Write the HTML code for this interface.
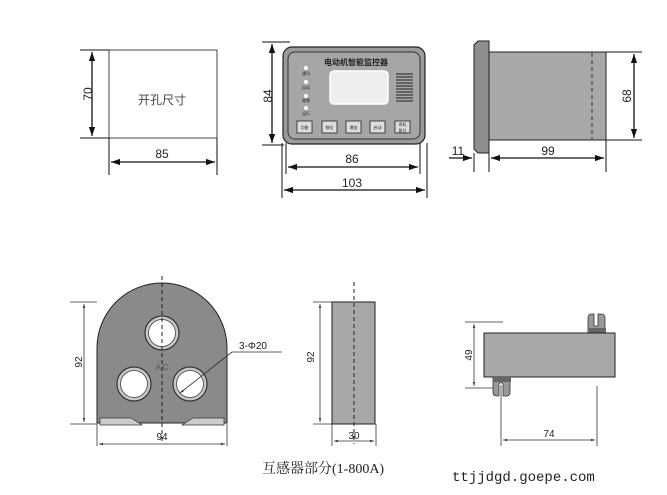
<!DOCTYPE html>
<html><head><meta charset="utf-8"><style>
html,body{margin:0;padding:0;background:#fff;width:667px;height:495px;overflow:hidden}
svg{display:block}
text{font-family:"Liberation Sans","Noto Sans CJK SC",sans-serif;fill:#222}
</style></head><body>
<svg width="667" height="495" viewBox="0 0 667 495" xmlns="http://www.w3.org/2000/svg">
<defs>
<marker id="a" viewBox="0 0 10 10" refX="10" refY="5" markerWidth="7" markerHeight="7" orient="auto-start-reverse"><path d="M0,1.5 L10,5 L0,8.5 z" fill="#111"/></marker>
<marker id="s" viewBox="0 0 10 10" refX="10" refY="5" markerWidth="5" markerHeight="5" orient="auto-start-reverse"><path d="M0,2 L10,5 L0,8 z" fill="#333"/></marker>
</defs>
<g stroke="#111" fill="none" stroke-width="1">
<rect x="109" y="50" width="108" height="88" stroke="#444"/>
<line x1="80" y1="50" x2="109" y2="50"/><line x1="80" y1="138" x2="109" y2="138"/>
<line x1="92" y1="52" x2="92" y2="136" stroke-width="1.3" marker-start="url(#a)" marker-end="url(#a)"/>
<line x1="109" y1="138" x2="109" y2="175"/><line x1="217" y1="138" x2="217" y2="175"/>
<line x1="111" y1="162" x2="215" y2="162" stroke-width="1.3" marker-start="url(#a)" marker-end="url(#a)"/>
<line x1="262" y1="42" x2="290" y2="42"/><line x1="262" y1="145" x2="284" y2="145"/>
<line x1="272" y1="44" x2="272" y2="143" stroke-width="1.3" marker-start="url(#a)" marker-end="url(#a)"/>
<line x1="286" y1="143" x2="286" y2="174"/><line x1="420" y1="143" x2="420" y2="174"/>
<line x1="288" y1="167" x2="418" y2="167" stroke-width="1.3" marker-start="url(#a)" marker-end="url(#a)"/>
<line x1="282" y1="143" x2="282" y2="198"/><line x1="427" y1="143" x2="427" y2="198"/>
<line x1="284" y1="190" x2="425" y2="190" stroke-width="1.3" marker-start="url(#a)" marker-end="url(#a)"/>
<line x1="606" y1="52" x2="642" y2="52"/><line x1="606" y1="140" x2="642" y2="140"/>
<line x1="634" y1="54" x2="634" y2="138" stroke-width="1.3" marker-start="url(#a)" marker-end="url(#a)"/>
<line x1="474" y1="153" x2="474" y2="172"/><line x1="489" y1="153" x2="489" y2="172"/><line x1="606" y1="140" x2="606" y2="172"/>
<line x1="449" y1="158" x2="472" y2="158" stroke-width="1.3" marker-end="url(#a)"/>
<line x1="491" y1="158" x2="604" y2="158" stroke-width="1.3" marker-start="url(#a)" marker-end="url(#a)"/>
</g>
<rect x="283" y="47" width="142" height="97" rx="9" fill="#9a9a9a" stroke="#222" stroke-width="1.2"/>
<rect x="288" y="52" width="132" height="87" rx="7" fill="#a6a6a6" stroke="#333" stroke-width="1"/>
<text x="356" y="65" font-size="8" text-anchor="middle" font-weight="bold" style="fill:#222">电动机智能监控器</text>
<rect x="330" y="71" width="58" height="33" rx="4" fill="#eee" stroke="#fff" stroke-width="1.5"/>
<g stroke="#222" stroke-width="1">
<line x1="396" y1="74" x2="413" y2="74"/><line x1="396" y1="77" x2="413" y2="77"/><line x1="396" y1="80" x2="413" y2="80"/><line x1="396" y1="83" x2="413" y2="83"/><line x1="396" y1="86" x2="413" y2="86"/><line x1="396" y1="89" x2="413" y2="89"/><line x1="396" y1="92" x2="413" y2="92"/><line x1="396" y1="95" x2="413" y2="95"/><line x1="396" y1="98" x2="413" y2="98"/><line x1="396" y1="101" x2="413" y2="101"/>
</g>
<g fill="#fff"><circle cx="306" cy="68" r="2"/><circle cx="306" cy="82" r="2"/><circle cx="306" cy="96" r="2"/><circle cx="306" cy="108" r="2"/></g>
<g font-size="4" style="fill:#222"><text x="302" y="75">通讯</text><text x="302" y="89">自动</text><text x="302" y="102">故障</text><text x="302" y="115">运行</text></g>
<g fill="#ddd" stroke="#222" stroke-width="0.8">
<rect x="297" y="121" width="15" height="12"/><rect x="322" y="121" width="15" height="12"/><rect x="346" y="121" width="15" height="12"/><rect x="370" y="121" width="15" height="12"/><rect x="395" y="121" width="15" height="12"/>
</g>
<g font-size="4" text-anchor="middle" style="fill:#333"><text x="304.5" y="129">功能</text><text x="329.5" y="129">移位</text><text x="353.5" y="129">增加</text><text x="377.5" y="129">启动</text><text x="402.5" y="126">停机</text><text x="402.5" y="132">复位</text></g>
<path d="M478,41 L489,41 L489,153 L478,153 L474,149 L474,45 Z" fill="#8e8e8e" stroke="#222"/>
<rect x="489" y="52" width="117" height="88" fill="#a8a8a8" stroke="#222"/>
<line x1="592" y1="53" x2="592" y2="139" stroke="#333" stroke-dasharray="4,3"/>
<text transform="translate(92,94) rotate(-90)" font-size="12" text-anchor="middle">70</text>
<text x="162" y="104" font-size="12" text-anchor="middle" style="fill:#444">开孔尺寸</text>
<text x="162" y="158" font-size="12" text-anchor="middle">85</text>
<text transform="translate(272,96) rotate(-90)" font-size="12" text-anchor="middle">84</text>
<text x="352" y="163" font-size="12" text-anchor="middle">86</text>
<text x="352" y="187" font-size="12" text-anchor="middle">103</text>
<text transform="translate(631,96) rotate(-90)" font-size="12" text-anchor="middle">68</text>
<text x="458" y="155" font-size="12" text-anchor="middle">11</text>
<text x="548" y="155" font-size="12" text-anchor="middle">99</text>
<path d="M97,423 L97,348 A65,65 0 0 1 227,348 L227,423 Z" fill="#8a8a8a" stroke="#222"/>
<path d="M100,418 L131,418 L142,425 L100,425 Z" fill="#ccc" stroke="#333" stroke-width="0.7"/>
<path d="M224,418 L193,418 L182,425 L224,425 Z" fill="#ccc" stroke="#333" stroke-width="0.7"/>
<g stroke="#333" stroke-width="1.2"><circle cx="162" cy="333" r="17" fill="#c8c8c8"/><circle cx="134" cy="384" r="17" fill="#c8c8c8"/><circle cx="190" cy="384" r="17" fill="#c8c8c8"/></g>
<g fill="#fff" stroke="#444" stroke-width="0.8"><circle cx="162" cy="333" r="13.5"/><circle cx="134" cy="384" r="13.5"/><circle cx="190" cy="384" r="13.5"/></g>
<text x="162" y="370" font-size="8" text-anchor="middle" style="fill:#555">A C</text>
<line x1="162" y1="276" x2="162" y2="442" stroke="#222" stroke-dasharray="4,3"/>
<g stroke="#333" stroke-width="0.8" fill="none">
<line x1="70" y1="302" x2="97" y2="302"/><line x1="70" y1="424" x2="97" y2="424"/>
<line x1="84" y1="304" x2="84" y2="422" marker-start="url(#s)" marker-end="url(#s)"/>
<line x1="97" y1="424" x2="97" y2="446"/><line x1="227" y1="424" x2="227" y2="446"/>
<line x1="99" y1="444" x2="225" y2="444" marker-start="url(#s)" marker-end="url(#s)"/>
<line x1="232" y1="352" x2="282" y2="352"/>
<line x1="232" y1="352" x2="180" y2="393" marker-end="url(#s)"/>
</g>
<text transform="translate(82,362) rotate(-90)" font-size="10" text-anchor="middle">92</text>
<text x="162" y="440" font-size="10" text-anchor="middle">94</text>
<text x="239" y="349" font-size="10">3-Φ20</text>
<rect x="332" y="302" width="43" height="122" fill="#a8a8a8" stroke="#222"/>
<line x1="354" y1="282" x2="354" y2="444" stroke="#222" stroke-dasharray="4,3"/>
<g stroke="#333" stroke-width="0.8">
<line x1="313" y1="302" x2="332" y2="302"/><line x1="313" y1="424" x2="332" y2="424"/>
<line x1="320" y1="304" x2="320" y2="422" marker-start="url(#s)" marker-end="url(#s)"/>
<line x1="332" y1="424" x2="332" y2="446"/><line x1="376" y1="424" x2="376" y2="446"/>
<line x1="334" y1="441" x2="374" y2="441" marker-start="url(#s)" marker-end="url(#s)"/>
</g>
<text transform="translate(314,357) rotate(-90)" font-size="10" text-anchor="middle">92</text>
<text x="354" y="439" font-size="10" text-anchor="middle">30</text>
<path d="M588,333 L588,318 Q588,314 592,314 L594,314 L594,326 L598,326 L598,314 L601,314 Q605,314 605,318 L605,333 Z" fill="#999" stroke="#333" stroke-width="0.8"/>
<rect x="588" y="328" width="18" height="5" fill="#666"/>
<rect x="484" y="333" width="131" height="44" fill="#a8a8a8" stroke="#222"/>
<path d="M493,377 L493,392 Q493,396 497,396 L499,396 L499,384 Q501,381 503,384 L503,396 L506,396 Q510,396 510,392 L510,377 Z" fill="#999" stroke="#333" stroke-width="0.8"/>
<rect x="493" y="377" width="18" height="5" fill="#666"/>
<g stroke="#333" stroke-width="0.8">
<line x1="465" y1="322" x2="503" y2="322"/><line x1="465" y1="388" x2="493" y2="388"/>
<line x1="474" y1="324" x2="474" y2="386" marker-start="url(#s)" marker-end="url(#s)"/>
<line x1="501" y1="385" x2="501" y2="446"/><line x1="597" y1="386" x2="597" y2="446"/>
<line x1="503" y1="440" x2="595" y2="440" marker-start="url(#s)" marker-end="url(#s)"/>
</g>
<text transform="translate(472,355) rotate(-90)" font-size="10" text-anchor="middle">49</text>
<text x="549" y="437" font-size="10" text-anchor="middle">74</text>
<text x="262" y="473" font-size="14" style="font-family:'Liberation Serif','Noto Serif CJK SC',serif;fill:#222">互感器部分(1-800A)</text>
<text x="452" y="481" font-size="14" style="font-family:'Liberation Mono',monospace;fill:#222">ttjjdgd.goepe.com</text>
</svg>
</body></html>
